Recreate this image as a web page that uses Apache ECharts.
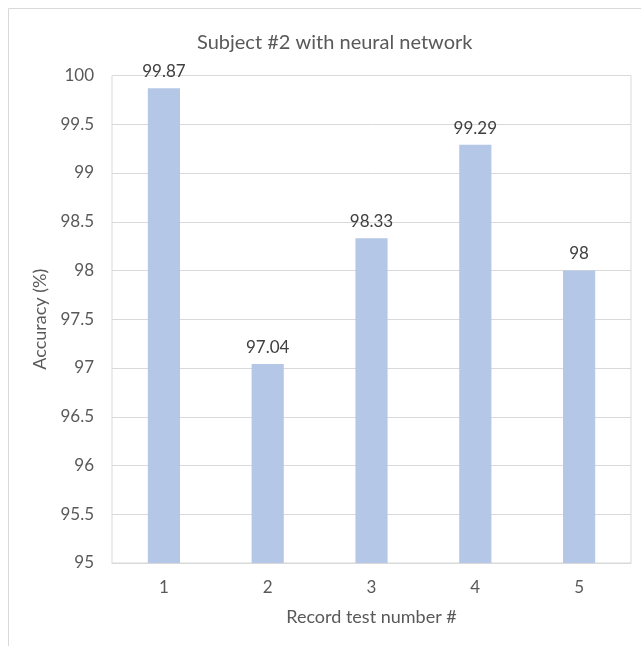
<!DOCTYPE html>
<html>
<head>
<meta charset="utf-8">
<script src="https://cdn.jsdelivr.net/npm/echarts@6/dist/echarts.min.js"></script>
<style>
  html, body { margin: 0; padding: 0; background: #ffffff; }
  #chart { width: 641px; height: 646px; }
</style>
</head>
<body>
<div id="chart"></div>
<script>
// Accuracy per recording test
const categories = ['1', '2', '3', '4', '5'];
const accuracy = [99.87, 97.04, 98.33, 99.29, 98];
const yTicks = { min: 95, max: 100, step: 0.5 };

const font = 'Lato, "Open Sans", "Liberation Sans", sans-serif';
const textGray = '#595959';

const chart = echarts.init(document.getElementById('chart'));
chart.setOption({
  backgroundColor: '#ffffff',
  animation: false,
  graphic: [{
    type: 'rect',
    shape: { x: 8.5, y: 8.5, width: 800, height: 800 },
    style: { fill: 'none', stroke: '#d9d9d9', lineWidth: 1 },
    silent: true
  }],
  title: {
    text: 'Subject #2 with neural network',
    left: 192,
    top: 28,
    textStyle: { fontFamily: font, fontSize: 20, fontWeight: 'normal', color: textGray }
  },
  grid: {
    left: 112, right: 10, top: 75.5, bottom: 83,
    show: true, borderColor: '#d9d9d9', borderWidth: 1, backgroundColor: 'transparent'
  },
  xAxis: {
    type: 'category',
    data: categories,
    name: 'Record test number #',
    nameLocation: 'middle',
    nameGap: 45,
    nameTextStyle: { fontFamily: font, fontSize: 18, color: textGray },
    axisLine: { show: true, lineStyle: { color: '#d9d9d9' } },
    axisTick: { show: false },
    axisLabel: { fontFamily: font, fontSize: 17, color: textGray, margin: 16 }
  },
  yAxis: {
    type: 'value',
    min: yTicks.min,
    max: yTicks.max,
    interval: yTicks.step,
    name: 'Accuracy (%)',
    nameLocation: 'middle',
    nameGap: 53,
    nameTextStyle: { fontFamily: font, fontSize: 18, color: textGray },
    axisLine: { show: false },
    axisTick: { show: false },
    axisLabel: { fontFamily: font, fontSize: 17, color: textGray, margin: 18 },
    splitLine: { lineStyle: { color: '#d9d9d9', width: 1 } }
  },
  series: [{
    type: 'bar',
    data: accuracy,
    barWidth: '31%',
    itemStyle: { color: '#b4c7e7' },
    label: {
      show: true,
      position: 'top',
      distance: 8,
      fontFamily: font,
      fontSize: 17,
      color: '#404040'
    }
  }]
});
</script>
</body>
</html>
